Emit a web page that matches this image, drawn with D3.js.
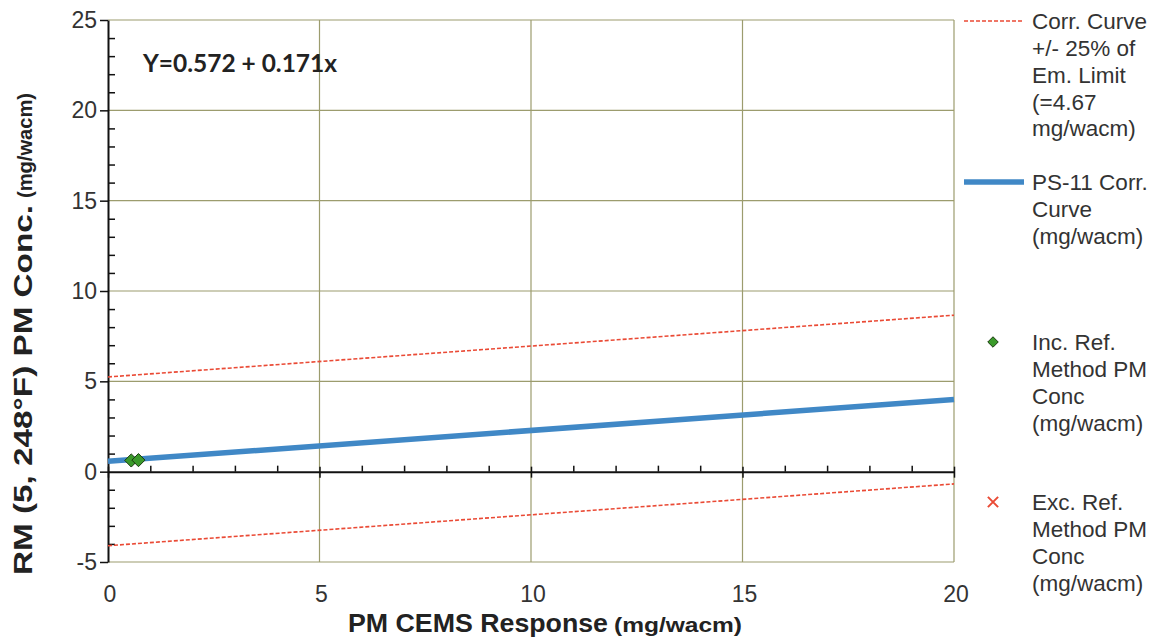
<!DOCTYPE html>
<html><head><meta charset="utf-8">
<script src="https://cdn.jsdelivr.net/npm/d3@7"></script>
<style>body{margin:0;background:#fff}svg{display:block}</style>
</head><body><svg id="c" width="1161" height="640"></svg>
<script>
// Data
const xDomain = [0, 20];
const yDomain = [-5, 25];
const xTicks = [0, 5, 10, 15, 20];
const yTicks = [-5, 0, 5, 10, 15, 20, 25];
const intercept = 0.572;
const slope = 0.171;
const emLimitBand = 4.67;
const curveX = [0, 20];
const incPointsX = [0.55, 0.72];
const incPointsY = [0.62, 0.64];
const equationText = "Y=0.572 + 0.171x";
const legendLabels = [
  ["Corr. Curve", "+/- 25% of", "Em. Limit", "(=4.67", "mg/wacm)"],
  ["PS-11 Corr.", "Curve", "(mg/wacm)"],
  ["Inc. Ref.", "Method PM", "Conc", "(mg/wacm)"],
  ["Exc. Ref.", "Method PM", "Conc", "(mg/wacm)"]
];

const svg = d3.select("#c");
const L = 108, R = 954, T = 20, B = 562;
const x = d3.scaleLinear().domain(xDomain).range([L, R]);
const y = d3.scaleLinear().domain(yDomain).range([B, T]);
const gridColor = "#9c9c6e";
const red = "#ea4a35", blue = "#4088c6";
const sans = "Liberation Sans, Arial, sans-serif";

// grid
svg.append("g").selectAll("line").data(yTicks.filter(d => d !== 0)).join("line")
  .attr("x1", L).attr("x2", R).attr("y1", d => y(d)).attr("y2", d => y(d))
  .attr("stroke", gridColor).attr("stroke-width", 1.2);
svg.append("g").selectAll("line").data(xTicks.filter(d => d !== 0)).join("line")
  .attr("x1", d => x(d)).attr("x2", d => x(d)).attr("y1", T).attr("y2", B)
  .attr("stroke", gridColor).attr("stroke-width", 1.2);

// y axis
const yAxis = svg.append("g").attr("transform", `translate(${L},0)`)
  .call(d3.axisLeft(y).tickValues(yTicks).tickSize(8).tickSizeOuter(0).tickFormat(d => String(d)));
yAxis.select(".domain").attr("stroke", "#111").attr("stroke-width", 2);
yAxis.selectAll(".tick line").attr("stroke", "#111").attr("stroke-width", 1.5);
yAxis.selectAll(".tick text").attr("font-family", sans)
  .attr("font-size", 23).attr("fill", "#333").attr("x", -11);
const yMinor = svg.append("g").attr("transform", `translate(${L},0)`)
  .call(d3.axisRight(y).tickValues(d3.range(-5, 26, 1).filter(d => d % 5 !== 0)).tickSize(7).tickFormat(""));
yMinor.select(".domain").remove();
yMinor.selectAll(".tick line").attr("stroke", "#111").attr("stroke-width", 1.5);

// x axis at y=0
const x0 = y(0);
const xMinor = svg.append("g").attr("transform", `translate(0,${x0})`)
  .call(d3.axisTop(x).tickValues(d3.range(0, 21, 1).filter(d => d % 5 !== 0)).tickSize(6).tickFormat(""));
xMinor.select(".domain").remove();
xMinor.selectAll(".tick line").attr("stroke", "#111").attr("stroke-width", 1.5);
const xAxis = svg.append("g").attr("transform", `translate(0,${x0})`)
  .call(d3.axisBottom(x).tickValues(xTicks).tickSize(6).tickSizeOuter(0).tickFormat(""));
xAxis.select(".domain").attr("stroke", "#111").attr("stroke-width", 2);
xAxis.selectAll(".tick line").attr("stroke", "#111").attr("stroke-width", 1.5).attr("y1", -5);
svg.append("g").selectAll("text").data(xTicks).join("text")
  .attr("x", d => x(d) + 2).attr("y", 602).attr("text-anchor", "middle")
  .attr("font-family", sans).attr("font-size", 23).attr("fill", "#333")
  .text(d => d);

// lines
const line = d3.line().x(d => x(d[0])).y(d => y(d[1]));
const mk = off => curveX.map(v => [v, intercept + slope * v + off]);
svg.append("path").attr("d", line(mk(emLimitBand))).attr("fill", "none")
  .attr("stroke", red).attr("stroke-width", 1.6).attr("stroke-dasharray", "4,2");
svg.append("path").attr("d", line(mk(-emLimitBand))).attr("fill", "none")
  .attr("stroke", red).attr("stroke-width", 1.6).attr("stroke-dasharray", "4,2");
svg.append("path").attr("d", line(mk(0))).attr("fill", "none")
  .attr("stroke", blue).attr("stroke-width", 5.5);

// points
const diamond = d3.symbol().type(d3.symbolDiamond2).size(110);
svg.append("g").selectAll("path").data(d3.zip(incPointsX, incPointsY)).join("path")
  .attr("d", diamond).attr("transform", d => `translate(${x(d[0])},${y(d[1])})`)
  .attr("fill", "#3a9a2a").attr("stroke", "#1a3a10").attr("stroke-width", 1);

// equation
svg.append("text").attr("x", 143).attr("y", 72)
  .attr("font-family", "Lato, sans-serif").attr("font-weight", "bold")
  .attr("font-size", 24).attr("fill", "#222")
  .attr("textLength", 194).attr("lengthAdjust", "spacingAndGlyphs").text(equationText);

// axis titles
svg.append("text").attr("x", 348).attr("y", 632)
  .attr("font-family", sans).attr("font-weight", "bold").attr("fill", "#222").attr("font-size", 25)
  .attr("textLength", 260).attr("lengthAdjust", "spacingAndGlyphs").text("PM CEMS Response");
svg.append("text").attr("x", 614).attr("y", 632)
  .attr("font-family", sans).attr("font-weight", "bold").attr("fill", "#222").attr("font-size", 20)
  .attr("textLength", 128).attr("lengthAdjust", "spacingAndGlyphs").text("(mg/wacm)");
svg.append("text").attr("transform", "translate(32,575) rotate(-90)")
  .attr("font-family", sans).attr("font-weight", "bold").attr("fill", "#222").attr("font-size", 26)
  .attr("textLength", 370).attr("lengthAdjust", "spacingAndGlyphs").text("RM (5, 248°F) PM Conc.");
svg.append("text").attr("transform", "translate(32,198) rotate(-90)")
  .attr("font-family", sans).attr("font-weight", "bold").attr("fill", "#222").attr("font-size", 20)
  .attr("textLength", 105).attr("lengthAdjust", "spacingAndGlyphs").text("(mg/wacm)");

// legend
const lg = svg.append("g").attr("font-family", sans).attr("font-size", 22.5).attr("fill", "#333");
const legendTop = [21, 182, 342, 502];
const lh = 26.8;
legendLabels.forEach((lines, i) => {
  lines.forEach((s, j) => {
    lg.append("text").attr("x", 1032).attr("y", legendTop[i] + j * lh).attr("dy", "0.36em").text(s);
  });
});
lg.append("line").attr("x1", 964).attr("x2", 1024).attr("y1", legendTop[0]).attr("y2", legendTop[0])
  .attr("stroke", red).attr("stroke-width", 1.6).attr("stroke-dasharray", "4,2");
lg.append("line").attr("x1", 964).attr("x2", 1024).attr("y1", legendTop[1]).attr("y2", legendTop[1])
  .attr("stroke", blue).attr("stroke-width", 5.5);
lg.append("path").attr("d", d3.symbol().type(d3.symbolDiamond2).size(70))
  .attr("transform", `translate(993,${legendTop[2]})`).attr("fill", "#3a9a2a").attr("stroke", "#1a3a10");
lg.append("path").attr("d", d3.symbol().type(d3.symbolTimes).size(70))
  .attr("transform", `translate(993,${legendTop[3]})`).attr("fill", "none").attr("stroke", red).attr("stroke-width", 2);
</script></body></html>
